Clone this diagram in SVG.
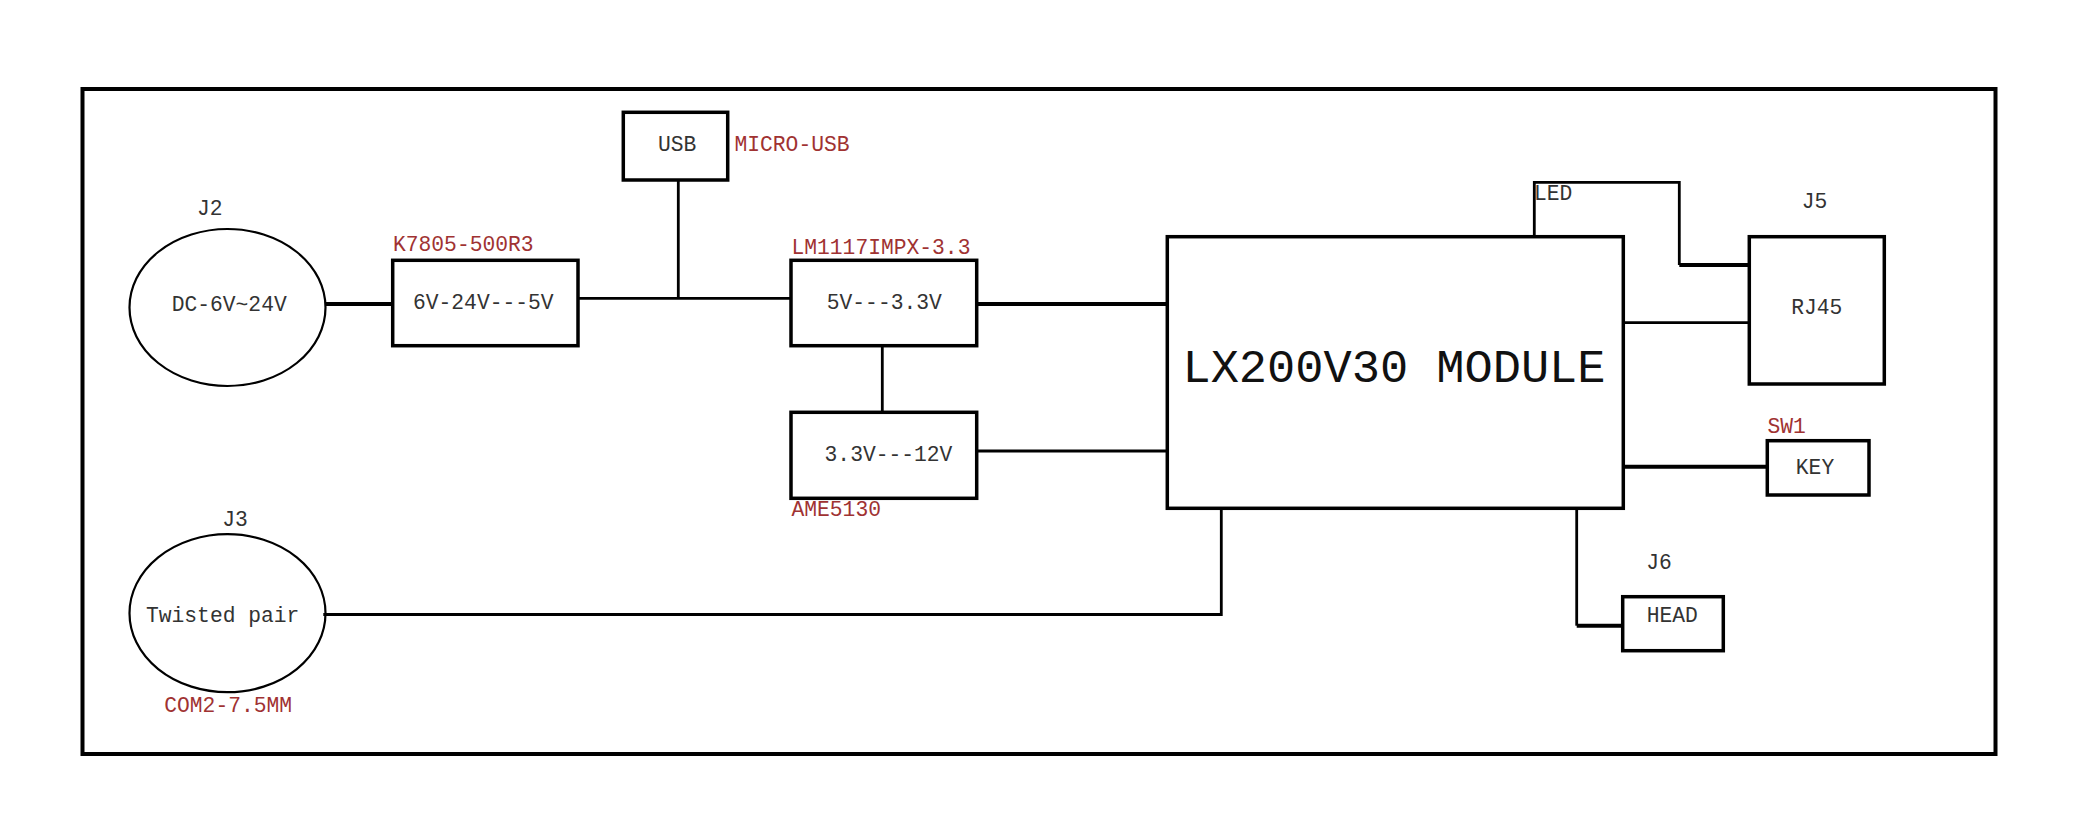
<svg xmlns="http://www.w3.org/2000/svg" width="2087" height="828" viewBox="0 0 2087 828">
<style>
.box{fill:none;stroke:#000;stroke-width:3.5}
.ell{fill:none;stroke:#000;stroke-width:2.2}
.w{fill:none;stroke:#000;stroke-width:2.8}
.wt{fill:none;stroke:#000;stroke-width:4}
text{font-family:"Liberation Mono","Courier New",monospace;font-size:21.3px;fill:#333}
.r{fill:#a03232}
.m{text-anchor:middle}
.big{font-size:47px;fill:#111}
</style>
<rect x="0" y="0" width="2087" height="828" fill="#fff"/>
<rect id="frame" x="82.5" y="89" width="1913" height="665" fill="none" stroke="#000" stroke-width="4"/>
<g id="connectors">
<line class="wt" x1="325" y1="304" x2="392.7" y2="304"/>
<line class="w" x1="578" y1="298.3" x2="791" y2="298.3"/>
<line class="w" x1="678.3" y1="180" x2="678.3" y2="298.3"/>
<line class="wt" x1="976.7" y1="304" x2="1167.3" y2="304"/>
<line class="w" x1="882.3" y1="345.7" x2="882.3" y2="412.3"/>
<line class="w" x1="976.7" y1="451" x2="1167.3" y2="451"/>
<line class="w" x1="1623.3" y1="322.7" x2="1749.3" y2="322.7"/>
<polyline class="w" points="1534.3,236.7 1534.3,182.3 1679.3,182.3 1679.3,265"/>
<line class="wt" x1="1679.3" y1="265" x2="1749.3" y2="265"/>
<line class="wt" x1="1623.3" y1="466.7" x2="1767.3" y2="466.7"/>
<line class="w" x1="1576.7" y1="508.3" x2="1576.7" y2="625.7"/>
<line class="wt" x1="1576.7" y1="625.7" x2="1622.7" y2="625.7"/>
<polyline class="w" points="323.3,614.5 1221.3,614.5 1221.3,508.3"/>
</g>
<g id="J2">
<ellipse class="ell" cx="227.5" cy="307.5" rx="98" ry="78.5"/>
<text class="m" x="209.7" y="215">J2</text>
<text class="m" x="229.2" y="311">DC-6V~24V</text>
</g>
<g id="K7805">
<rect class="box" x="392.7" y="260.3" width="185.3" height="85.4"/>
<text class="r" x="393" y="250.7">K7805-500R3</text>
<text class="m" x="483.3" y="309.3">6V-24V---5V</text>
</g>
<g id="USB">
<rect class="box" x="623.3" y="112.3" width="104.4" height="67.7"/>
<text class="m" x="677.2" y="151">USB</text>
<text class="r" x="734.5" y="151">MICRO-USB</text>
</g>
<g id="LM1117">
<rect class="box" x="791" y="260.3" width="185.7" height="85.4"/>
<text class="r" x="791.5" y="254">LM1117IMPX-3.3</text>
<text class="m" x="884.3" y="309">5V---3.3V</text>
</g>
<g id="AME5130">
<rect class="box" x="791" y="412.3" width="185.7" height="86"/>
<text class="m" x="888.5" y="461">3.3V---12V</text>
<text class="r" x="791.5" y="515.7">AME5130</text>
</g>
<g id="module">
<rect class="box" x="1167.3" y="236.7" width="456" height="271.6"/>
<text class="m big" x="1394" y="381.7">LX200V30 MODULE</text>
<text x="1534" y="200">LED</text>
</g>
<g id="J5">
<rect class="box" x="1749.3" y="236.7" width="135" height="147.3"/>
<text class="m" x="1814.5" y="208.3">J5</text>
<text class="m" x="1816.7" y="314">RJ45</text>
</g>
<g id="SW1">
<rect class="box" x="1767.3" y="440.7" width="101.7" height="54.3"/>
<text class="r" x="1767.5" y="432.7">SW1</text>
<text class="m" x="1815" y="474">KEY</text>
</g>
<g id="J6">
<rect class="box" x="1622.7" y="596.7" width="100.6" height="54"/>
<text class="m" x="1659" y="569.3">J6</text>
<text class="m" x="1672.2" y="621.7">HEAD</text>
</g>
<g id="J3">
<ellipse class="ell" cx="227.5" cy="613.2" rx="98" ry="79"/>
<text class="m" x="235" y="525.7">J3</text>
<text class="m" x="222.7" y="621.7">Twisted pair</text>
<text class="m r" x="228.2" y="711.7">COM2-7.5MM</text>
</g>
</svg>
